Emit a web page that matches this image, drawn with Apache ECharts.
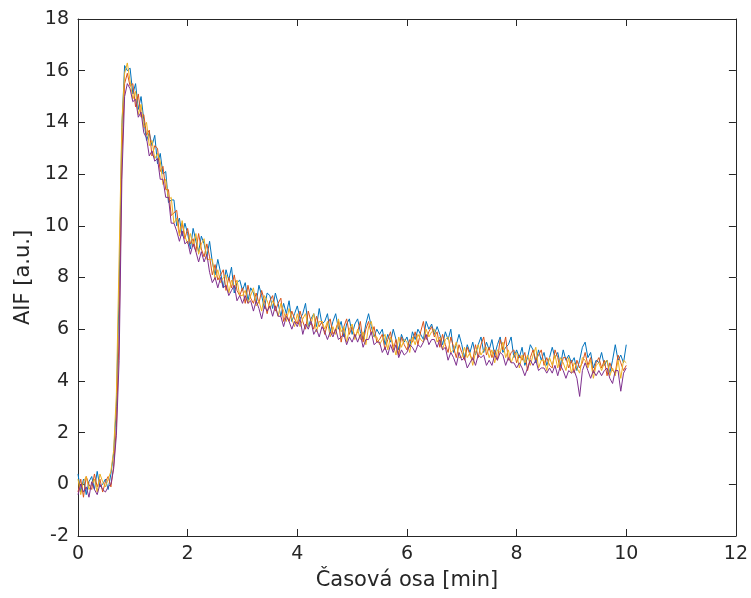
<!DOCTYPE html>
<html>
<head>
<meta charset="utf-8">
<script src="https://cdn.jsdelivr.net/npm/echarts@6/dist/echarts.min.js"></script>
<style>
html,body{margin:0;padding:0;background:#fff;}
#chart{width:751px;height:598px;}
</style>
</head>
<body>
<div id="chart"></div>
<script>
// Sampling step of the acquisition, in minutes
const sampleStep = 0.05;

const xTicks = [0, 2, 4, 6, 8, 10, 12];
const yTicks = [-2, 0, 2, 4, 6, 8, 10, 12, 14, 16, 18];

const seriesNames = ['AIF 1', 'AIF 2', 'AIF 3', 'AIF 4'];

const aif1 = [
0.4,-0.3,0.2,-0.4,0.1,0.3,-0.2,0.5,-0.1,0.0,
0.2,-0.2,0.4,1.2,3.0,7.5,13.8,16.2,16.0,16.1,
15.1,15.5,14.5,15.0,14.1,13.3,13.6,13.1,13.5,12.4,
12.8,12.0,12.1,10.9,11.0,11.0,10.0,10.3,9.6,10.1,
9.7,9.1,9.9,9.4,9.0,9.6,9.3,8.8,9.4,8.6,
8.1,8.7,8.2,7.6,8.3,7.9,8.4,7.4,7.8,7.9,
7.5,7.8,7.1,7.6,7.4,7.0,7.7,7.3,6.8,7.4,
7.3,6.8,7.4,7.0,6.5,7.0,6.6,7.1,6.3,6.6,
6.9,6.4,6.6,7.0,6.1,6.4,6.6,6.1,6.8,6.2,
6.3,6.6,5.9,6.3,6.6,6.0,6.3,5.7,6.2,6.4,
5.8,6.2,6.4,5.9,5.6,6.2,6.6,6.1,5.7,6.0,
5.8,6.0,5.4,5.8,5.5,6.0,5.6,5.2,5.8,5.5,
5.7,5.3,5.9,5.6,6.0,5.8,5.6,6.3,6.0,6.2,
5.8,6.1,5.8,5.4,5.9,5.6,6.0,5.1,5.4,5.8,
5.4,4.9,5.4,5.1,5.5,5.0,5.4,5.7,5.1,5.5,
5.2,5.6,5.0,5.4,5.7,5.1,5.3,5.4,5.7,4.9,
5.2,4.9,5.3,4.6,4.9,5.4,5.2,4.7,5.2,4.8,
5.1,4.6,4.9,5.3,4.9,5.1,4.6,5.2,4.8,5.0,
4.7,4.9,4.4,4.8,5.3,5.5,4.9,5.1,4.5,4.8,
4.7,5.1,4.6,4.8,4.3,4.8,5.4,4.8,5.0,4.7,
5.4
];

const aif2 = [
-0.3,0.2,-0.5,0.3,0.0,-0.2,0.4,-0.1,0.2,-0.3,
0.1,0.3,-0.1,0.7,2.2,5.8,12.6,15.5,15.9,15.4,
15.5,14.6,15.1,14.2,14.3,13.5,13.7,12.7,13.1,13.0,
12.1,12.3,11.4,11.4,10.4,10.5,10.6,9.7,10.1,9.5,
9.9,9.3,9.5,9.0,9.7,9.1,8.8,9.3,8.8,8.1,
8.5,7.9,8.1,8.3,7.5,8.0,7.6,8.1,7.5,7.3,
7.6,7.0,7.7,7.2,7.0,7.4,7.0,7.5,7.1,6.6,
7.1,7.3,6.7,7.0,7.2,6.3,6.6,6.3,6.7,6.4,
6.2,6.7,6.3,6.0,6.7,6.3,6.0,6.5,6.1,6.3,
5.8,6.2,6.4,5.8,6.0,6.3,5.5,6.1,6.4,5.8,
6.1,5.7,5.9,6.3,5.5,6.0,6.3,5.8,6.1,5.5,
5.6,5.8,5.2,5.6,5.9,5.2,5.6,5.0,5.7,5.4,
5.2,5.6,5.5,5.9,5.4,5.9,6.3,5.6,5.9,6.1,
5.7,5.9,5.3,5.8,5.4,5.1,5.7,5.3,4.9,5.4,
5.1,4.8,5.3,5.0,4.8,5.4,4.9,5.4,5.7,5.0,
5.3,4.9,5.2,4.8,5.6,5.2,5.7,4.8,5.1,5.2,
4.7,5.0,4.8,5.1,4.4,4.9,5.2,4.8,5.0,5.2,
4.6,4.9,4.6,4.5,5.2,4.9,4.4,4.9,4.9,4.5,
4.8,4.3,4.8,4.5,4.7,5.1,4.6,4.9,4.3,4.7,
4.9,4.5,4.8,4.2,4.7,4.4,4.3,5.0,4.7,4.4,
4.6
];

const aif3 = [
0.2,-0.4,0.1,0.3,-0.2,0.0,0.2,-0.3,0.4,0.1,
-0.1,0.2,0.5,1.3,3.5,8.8,14.0,15.9,16.3,15.6,
14.9,15.2,14.3,14.7,13.8,14.0,13.1,13.3,12.6,12.8,
12.5,11.6,11.8,11.0,11.1,10.1,10.3,9.6,10.2,9.6,
9.3,9.7,9.2,9.7,8.9,9.3,9.5,8.7,8.7,8.7,
7.9,8.3,7.8,8.0,8.1,7.4,7.9,7.6,7.9,7.3,
7.3,7.5,7.0,7.3,7.6,6.9,7.1,6.7,7.3,7.1,
6.8,7.1,6.9,6.5,7.0,6.7,6.3,6.8,6.4,6.1,
6.6,6.1,6.4,6.6,6.1,6.2,6.6,5.9,6.3,6.3,
6.0,6.3,5.7,6.1,5.8,6.4,5.9,6.1,5.5,6.0,
6.2,5.6,6.0,5.6,5.9,5.4,6.1,6.3,5.7,5.7,
5.4,5.6,5.8,5.2,5.7,5.4,5.0,5.7,5.3,5.6,
5.5,5.1,5.7,5.4,5.8,5.6,5.5,6.0,5.7,5.9,
6.0,5.5,5.7,5.2,5.6,5.7,5.1,5.2,5.5,4.9,
4.9,5.3,4.9,5.1,4.6,5.1,5.4,5.0,5.2,5.3,
4.9,5.2,4.7,5.2,5.1,5.5,4.9,5.2,4.7,5.0,
5.1,4.5,5.0,4.7,5.0,4.6,5.0,5.3,4.5,4.8,
4.8,4.4,4.9,4.6,5.0,4.5,4.9,4.7,4.4,4.9,
4.3,4.7,4.5,4.3,4.9,4.8,4.5,4.8,4.1,4.6,
4.7,4.4,4.7,4.8,4.2,4.5,4.2,4.8,4.1,4.8,
4.7
];

const aif4 = [
-0.4,0.0,-0.3,-0.1,-0.5,0.1,-0.2,-0.4,0.0,-0.2,
-0.3,-0.1,0.0,0.6,1.9,4.8,11.8,15.0,15.5,15.3,
14.8,14.9,14.2,14.4,13.6,13.4,12.7,12.9,12.5,12.6,
11.8,11.8,11.1,11.1,10.1,10.1,9.8,9.4,9.8,9.3,
9.4,8.9,9.3,9.0,8.6,9.0,8.6,8.9,8.2,7.8,
8.0,7.6,8.0,7.6,7.7,7.3,7.5,7.7,7.1,7.3,
7.0,7.3,7.0,7.1,6.7,7.1,6.8,6.4,6.9,6.7,
6.9,6.5,6.9,6.5,6.5,6.1,6.5,6.3,6.0,6.3,
6.1,6.4,5.8,6.2,6.0,6.3,5.8,6.0,5.7,6.1,
5.9,5.6,5.9,5.7,6.0,5.6,5.7,5.8,5.4,5.7,
5.5,5.8,5.5,5.8,5.3,5.6,5.6,5.9,5.4,5.5,
5.5,5.1,5.3,5.0,5.4,5.1,5.4,4.9,5.2,5.0,
5.1,5.4,5.3,5.1,5.4,5.3,5.5,5.8,5.4,5.6,
5.6,5.3,5.6,5.2,5.3,4.8,5.1,4.9,4.6,5.1,
4.8,4.9,4.5,4.7,4.9,4.6,5.0,4.9,5.0,4.6,
4.8,4.6,5.0,4.8,5.1,5.0,4.6,4.9,4.7,4.7,
4.5,4.7,4.5,4.2,4.5,4.8,4.6,4.8,4.4,4.5,
4.5,4.3,4.5,4.3,4.6,4.2,4.6,4.4,4.1,4.4,
4.3,4.4,4.1,3.4,4.4,4.7,4.4,4.1,4.4,4.2,
4.4,4.2,4.4,4.5,4.1,3.9,4.4,4.4,3.6,4.3,
4.5
];

const seriesValues = [aif1, aif2, aif3, aif4];
const colors = ['#0072BD', '#D95319', '#EDB120', '#7E2F8E'];

function toPairs(vals) {
  return vals.map((v, i) => [Number((i * sampleStep).toFixed(2)), v]);
}

const axisColor = '#262626';
const font = 'DejaVu Sans';

const baseX = {
  type: 'value', min: xTicks[0], max: xTicks[xTicks.length - 1], interval: 2,
  axisLine: { show: true, onZero: false, lineStyle: { color: axisColor, width: 1 } },
  axisTick: { show: true, inside: true, length: 7, lineStyle: { color: axisColor } },
  splitLine: { show: false }
};
const baseY = {
  type: 'value', min: yTicks[0], max: yTicks[yTicks.length - 1], interval: 2,
  axisLine: { show: true, onZero: false, lineStyle: { color: axisColor, width: 1 } },
  axisTick: { show: true, inside: true, length: 7, lineStyle: { color: axisColor } },
  splitLine: { show: false }
};

const chart = echarts.init(document.getElementById('chart'), null, { renderer: 'canvas' });
chart.setOption({
  animation: false,
  backgroundColor: '#ffffff',
  grid: { left: 78, right: 15, top: 19, bottom: 62, containLabel: false },
  xAxis: [
    Object.assign({}, baseX, {
      position: 'bottom',
      name: 'Časová osa [min]', nameLocation: 'middle', nameGap: 34,
      nameTextStyle: { fontFamily: font, fontSize: 21, color: axisColor },
      axisLabel: { show: true, margin: 9, fontFamily: font, fontSize: 19, color: axisColor }
    }),
    Object.assign({}, baseX, { position: 'top', axisLabel: { show: false } })
  ],
  yAxis: [
    Object.assign({}, baseY, {
      position: 'left',
      name: 'AIF [a.u.]', nameLocation: 'middle', nameGap: 44,
      nameTextStyle: { fontFamily: font, fontSize: 21, color: axisColor },
      axisLabel: { show: true, margin: 9, fontFamily: font, fontSize: 19, color: axisColor }
    }),
    Object.assign({}, baseY, { position: 'right', axisLabel: { show: false } })
  ],
  series: seriesValues.map((vals, k) => ({
    name: seriesNames[k],
    type: 'line',
    xAxisIndex: 0, yAxisIndex: 0,
    data: toPairs(vals),
    showSymbol: false,
    symbol: 'none',
    sampling: null,
    lineStyle: { color: colors[k], width: 1 },
    itemStyle: { color: colors[k] },
    z: 2 + k
  }))
});
</script>
</body>
</html>
